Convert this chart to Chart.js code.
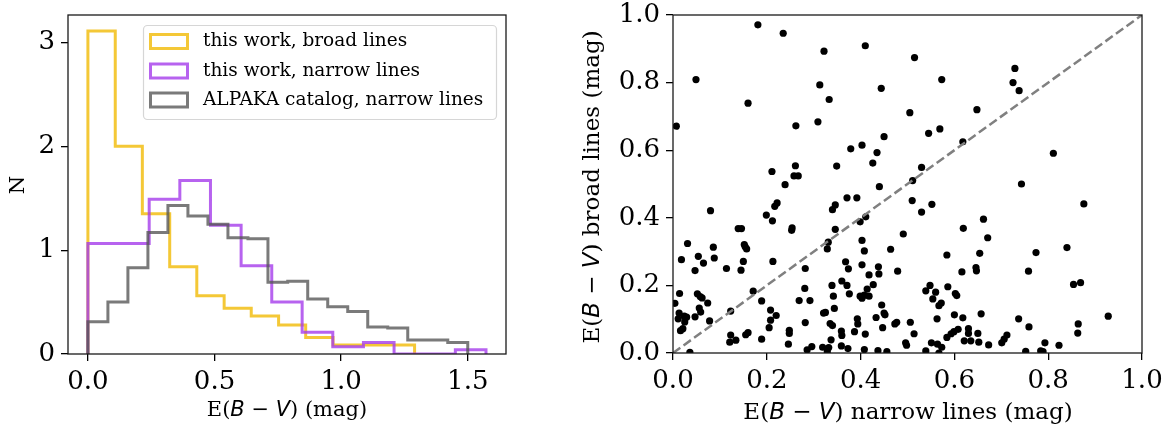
<!DOCTYPE html>
<html>
<head>
<meta charset="utf-8">
<script src="https://cdn.jsdelivr.net/npm/chart.js@4.4.0/dist/chart.umd.min.js"></script>
<style>
  html, body { margin: 0; padding: 0; background: #fff; }
  #histChart { position: absolute; left: 0; top: 0; }
  #scatterChart { position: absolute; left: 560px; top: 0; }
</style>
</head>
<body>
<canvas id="histChart" width="560" height="427"></canvas>
<canvas id="scatterChart" width="610" height="427"></canvas>
<script>
// ---- left panel: histograms (bin edges + heights) ----
const broadEdges = [0, 0.108, 0.215, 0.323, 0.430, 0.538, 0.645, 0.753, 0.860, 0.968, 1.075, 1.183, 1.290];
const broadCounts = [3.11, 2.0, 1.35, 0.84, 0.56, 0.44, 0.365, 0.28, 0.16, 0.087, 0.087, 0.087];

const narrowEdges = [0, 0.121, 0.242, 0.363, 0.484, 0.605, 0.726, 0.846, 0.967, 1.088, 1.209, 1.330, 1.451, 1.572];
const narrowCounts = [1.065, 1.065, 1.49, 1.67, 1.24, 0.85, 0.50, 0.21, 0.07, 0.11, 0, 0, 0.04];

const alpakaEdges = [0, 0.079, 0.158, 0.237, 0.316, 0.395, 0.474, 0.553, 0.632, 0.711, 0.789, 0.868, 0.947, 1.026, 1.105, 1.184, 1.263, 1.342, 1.421, 1.5];
const alpakaCounts = [0.31, 0.50, 0.83, 1.17, 1.43, 1.33, 1.25, 1.12, 1.11, 0.69, 0.70, 0.53, 0.455, 0.41, 0.26, 0.25, 0.135, 0.135, 0.11];

const histLabels = ["this work, broad lines", "this work, narrow lines", "ALPAKA catalog, narrow lines"];
const histXTicks = [0, 0.5, 1.0, 1.5];
const histYTicks = [0, 1, 2, 3];

// ---- right panel: narrow vs broad E(B-V) ----
const narrowEBV = [
  0.181, 0.235, 0.322, 0.410, 0.049, 0.313, 0.444, 0.160, 0.333, 0.505,
  0.007, 0.262, 0.309, 0.450, 0.379, 0.403, 0.435, 0.426, 0.261, 0.211,
  0.349, 0.258, 0.267, 0.239, 0.440, 0.515, 0.573, 0.729, 0.725, 0.738,
  0.648, 0.545, 0.569, 0.618, 0.811, 0.530, 0.511, 0.743, 0.080, 0.199,
  0.222, 0.217, 0.212, 0.139, 0.146, 0.254, 0.253, 0.031, 0.086, 0.152,
  0.154, 0.157, 0.054, 0.088, 0.018, 0.065, 0.150, 0.213, 0.047, 0.114,
  0.145, 0.171, 0.014, 0.052, 0.058, 0.062, 0.004, 0.074, 0.189, 0.056,
  0.059, 0.013, 0.011, 0.029, 0.025, 0.047, 0.123, 0.078, 0.021, 0.016,
  0.208, 0.220, 0.208, 0.205, 0.123, 0.121, 0.134, 0.155, 0.160, 0.189,
  0.248, 0.248, 0.246, 0.036, 0.371, 0.392, 0.346, 0.340, 0.510, 0.411,
  0.399, 0.346, 0.331, 0.329, 0.491, 0.403, 0.408, 0.464, 0.368, 0.374,
  0.403, 0.282, 0.438, 0.439, 0.479, 0.418, 0.360, 0.371, 0.339, 0.427,
  0.281, 0.414, 0.376, 0.342, 0.399, 0.403, 0.408, 0.418, 0.269, 0.292,
  0.344, 0.445, 0.321, 0.325, 0.450, 0.452, 0.433, 0.393, 0.394, 0.282,
  0.335, 0.340, 0.477, 0.473, 0.506, 0.447, 0.359, 0.360, 0.387, 0.410,
  0.337, 0.496, 0.498, 0.359, 0.373, 0.286, 0.296, 0.319, 0.332, 0.329,
  0.408, 0.437, 0.456, 0.552, 0.530, 0.662, 0.619, 0.671, 0.654, 0.584,
  0.646, 0.647, 0.616, 0.758, 0.548, 0.539, 0.560, 0.586, 0.602, 0.605,
  0.554, 0.572, 0.567, 0.563, 0.600, 0.618, 0.657, 0.737, 0.759, 0.514,
  0.608, 0.599, 0.593, 0.584, 0.630, 0.630, 0.650, 0.621, 0.635, 0.652,
  0.673, 0.712, 0.706, 0.701, 0.551, 0.564, 0.573, 0.567, 0.539, 0.752,
  0.876, 0.840, 0.774, 0.854, 0.869, 0.928, 0.864, 0.863, 0.793, 0.823,
  0.784, 0.789, 0.024
];
const broadEBV = [
  0.971, 0.946, 0.893, 0.909, 0.809, 0.793, 0.783, 0.739, 0.750, 0.711,
  0.671, 0.672, 0.684, 0.640, 0.604, 0.615, 0.593, 0.562, 0.554, 0.537,
  0.553, 0.524, 0.524, 0.498, 0.492, 0.874, 0.809, 0.842, 0.800, 0.776,
  0.720, 0.650, 0.663, 0.625, 0.591, 0.549, 0.510, 0.500, 0.421, 0.408,
  0.444, 0.434, 0.391, 0.368, 0.368, 0.370, 0.363, 0.324, 0.313, 0.321,
  0.314, 0.308, 0.286, 0.281, 0.276, 0.266, 0.271, 0.271, 0.244, 0.250,
  0.245, 0.183, 0.176, 0.175, 0.167, 0.163, 0.147, 0.148, 0.154, 0.133,
  0.121, 0.118, 0.101, 0.106, 0.092, 0.107, 0.124, 0.095, 0.072, 0.066,
  0.127, 0.111, 0.097, 0.075, 0.053, 0.032, 0.038, 0.054, 0.060, 0.041,
  0.067, 0.058, 0.026, 0.002, 0.459, 0.459, 0.438, 0.424, 0.451, 0.403,
  0.388, 0.366, 0.328, 0.308, 0.352, 0.333, 0.302, 0.307, 0.270, 0.249,
  0.261, 0.250, 0.255, 0.234, 0.242, 0.231, 0.213, 0.200, 0.200, 0.202,
  0.191, 0.189, 0.175, 0.168, 0.168, 0.162, 0.171, 0.168, 0.155, 0.155,
  0.132, 0.142, 0.118, 0.120, 0.118, 0.113, 0.105, 0.101, 0.086, 0.090,
  0.087, 0.081, 0.091, 0.086, 0.091, 0.075, 0.065, 0.052, 0.063, 0.056,
  0.039, 0.030, 0.023, 0.021, 0.013, 0.009, 0.019, 0.017, 0.016, 0.004,
  0.010, 0.007, 0.004, 0.440, 0.417, 0.396, 0.369, 0.341, 0.295, 0.290,
  0.253, 0.243, 0.240, 0.242, 0.200, 0.184, 0.180, 0.196, 0.176, 0.170,
  0.160, 0.148, 0.140, 0.101, 0.113, 0.104, 0.116, 0.101, 0.077, 0.057,
  0.070, 0.063, 0.057, 0.046, 0.072, 0.058, 0.058, 0.036, 0.036, 0.032,
  0.024, 0.053, 0.041, 0.030, 0.030, 0.026, 0.017, 0.000, 0.006, 0.005,
  0.441, 0.312, 0.297, 0.203, 0.208, 0.109, 0.086, 0.059, 0.030, 0.023,
  0.006, 0.004, 0.109
];
const diagonal = [0, 1];
const scatterTicks = [0, 0.2, 0.4, 0.6, 0.8, 1.0];

// axis labels: [text, italic]
const histXTitle = [["E(", 0], ["B", 1], [" \u2212 ", 0], ["V", 1], [") (mag)", 0]];
const histYTitle = [["N", 0]];
const scatXTitle = [["E(", 0], ["B", 1], [" \u2212 ", 0], ["V", 1], [") narrow lines (mag)", 0]];
const scatYTitle = [["E(", 0], ["B", 1], [" \u2212 ", 0], ["V", 1], [") broad lines (mag)", 0]];

const SERIF = "'DejaVu Serif', serif";
const tickFont = { family: SERIF, size: 26 };

function stepPoints(edges, counts) {
  const pts = [{ x: edges[0], y: 0 }];
  counts.forEach((c, i) => pts.push({ x: edges[i + 1], y: c }));
  pts.push({ x: edges[edges.length - 1], y: 0 });
  return pts;
}

function drawRich(ctx, parts, cx, cy, vertical, size) {
  ctx.save();
  ctx.translate(cx, cy);
  if (vertical) ctx.rotate(-Math.PI / 2);
  ctx.fillStyle = "#000";
  ctx.textBaseline = "middle";
  ctx.textAlign = "left";
  const fontOf = p => p[1] ? "oblique " + size + "px 'DejaVu Sans'" : size + "px " + SERIF;
  let total = 0;
  parts.forEach(p => { ctx.font = fontOf(p); total += ctx.measureText(p[0]).width; });
  let x = -total / 2;
  parts.forEach(p => {
    ctx.font = fontOf(p);
    ctx.fillText(p[0], x, 0);
    x += ctx.measureText(p[0]).width;
  });
  ctx.restore();
}

// frame around plot area + axis titles
const framePlugin = {
  id: "frame",
  afterDatasetsDraw(chart) {
    const { ctx, chartArea: a } = chart;
    ctx.save();
    ctx.strokeStyle = "#1a1a1a";
    ctx.lineWidth = 1.3;
    ctx.strokeRect(a.left, a.top, a.right - a.left, a.bottom - a.top);
    ctx.restore();
  },
  afterDraw(chart, args, opts) {
    drawRich(chart.ctx, opts.xTitle, opts.xPos[0], opts.xPos[1], false, opts.size);
    drawRich(chart.ctx, opts.yTitle, opts.yPos[0], opts.yPos[1], true, opts.size);
  }
};

// legend box drawn inside the left panel
const boxLegend = {
  id: "boxLegend",
  afterDraw(chart) {
    const ctx = chart.ctx;
    ctx.save();
    ctx.beginPath();
    ctx.roundRect(143.5, 25.5, 353, 94, 4);
    ctx.fillStyle = "rgba(255,255,255,0.8)";
    ctx.fill();
    ctx.strokeStyle = "#d6d6d6";
    ctx.lineWidth = 1.2;
    ctx.stroke();
    const rows = [41.5, 71, 100];
    chart.data.datasets.forEach((ds, i) => {
      const y = rows[i];
      ctx.strokeStyle = ds.borderColor;
      ctx.lineWidth = 3;
      ctx.strokeRect(150.5, y - 7, 37, 14);
      ctx.fillStyle = "#000";
      ctx.font = "18.5px " + SERIF;
      ctx.textBaseline = "middle";
      ctx.fillText(ds.label, 203, y);
    });
    ctx.restore();
  }
};

function axisCommon(ticks, fmt, size, dir) {
  return {
    type: "linear",
    afterBuildTicks: s => { s.ticks = ticks.map(v => ({ value: v })); },
    ticks: { callback: fmt, font: tickFont, color: "#000", padding: 6, maxRotation: 0, autoSkip: false },
    grid: { drawOnChartArea: false, color: "#000", lineWidth: 1.3, tickLength: 7 },
    border: { display: false },
    afterFit: s => {
      if (dir === "x") s.height = size; else s.width = size;
      s.paddingTop = 0; s.paddingBottom = 0; s.paddingLeft = 0; s.paddingRight = 0;
    }
  };
}

const histColors = ["rgba(242,190,20,0.85)", "rgba(165,60,235,0.8)", "rgba(85,85,85,0.78)"];
const histData = [[broadEdges, broadCounts], [narrowEdges, narrowCounts], [alpakaEdges, alpakaCounts]];

new Chart(document.getElementById("histChart").getContext("2d"), {
  type: "line",
  data: {
    datasets: histData.map((d, i) => ({
      label: histLabels[i],
      data: stepPoints(d[0], d[1]),
      stepped: "after",
      borderColor: histColors[i],
      borderWidth: 3,
      borderJoinStyle: "miter",
      pointRadius: 0,
      fill: false,
      order: 3 - i
    }))
  },
  options: {
    responsive: false,
    animation: false,
    layout: { padding: { top: 15, right: 54, left: 0, bottom: 0 } },
    plugins: {
      legend: { display: false },
      tooltip: { enabled: false },
      frame: { xTitle: histXTitle, xPos: [287, 411], yTitle: histYTitle, yPos: [19, 185], size: 21 }
    },
    scales: {
      x: Object.assign(axisCommon(histXTicks, v => v.toFixed(1), 73, "x"), { min: -0.0786, max: 1.651 }),
      y: Object.assign(axisCommon(histYTicks, v => v.toFixed(0), 68, "y"), { min: 0, max: 3.265 })
    }
  },
  plugins: [framePlugin, boxLegend]
});

new Chart(document.getElementById("scatterChart").getContext("2d"), {
  type: "scatter",
  data: {
    datasets: [
      {
        label: "sources",
        data: narrowEBV.map((x, i) => ({ x: x, y: broadEBV[i] })),
        backgroundColor: "#000",
        borderWidth: 0,
        pointRadius: 3.6,
        order: 1
      },
      {
        type: "line",
        label: "1:1",
        data: diagonal.map(v => ({ x: v, y: v })),
        borderColor: "#808080",
        borderWidth: 2.5,
        borderDash: [9, 4],
        pointRadius: 0,
        order: 0
      }
    ]
  },
  options: {
    responsive: false,
    animation: false,
    layout: { padding: { top: 15, right: 28, left: 0, bottom: 0 } },
    plugins: {
      legend: { display: false },
      tooltip: { enabled: false },
      frame: { xTitle: scatXTitle, xPos: [348, 413], yTitle: scatYTitle, yPos: [33, 187], size: 23 }
    },
    scales: {
      x: Object.assign(axisCommon(scatterTicks, v => v.toFixed(1), 74, "x"), { min: 0, max: 1 }),
      y: Object.assign(axisCommon(scatterTicks, v => v.toFixed(1), 113, "y"), { min: 0, max: 1 })
    }
  },
  plugins: [framePlugin]
});
</script>
</body>
</html>
